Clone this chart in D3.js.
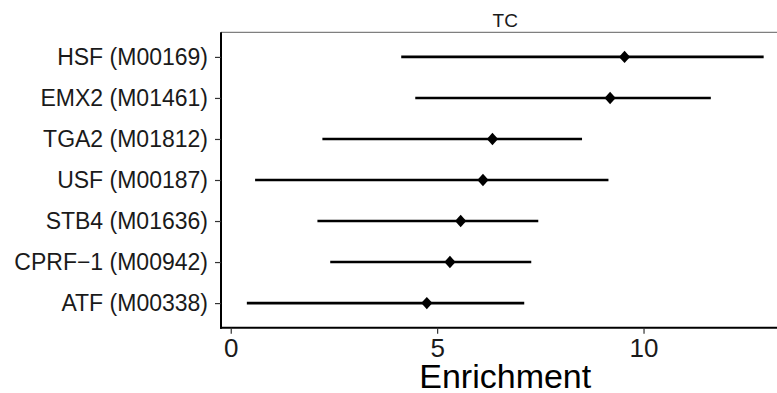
<!DOCTYPE html>
<html>
<head>
<meta charset="utf-8">
<script src="https://cdn.jsdelivr.net/npm/d3@7"></script>
<style>
  body { margin: 0; background: #fff; }
  svg { display: block; font-family: "Liberation Sans", Arial, sans-serif; }
</style>
</head>
<body>
<div id="chart"></div>
<script>
// motifs, top to bottom
var motifs = ["HSF (M00169)", "EMX2 (M01461)", "TGA2 (M01812)", "USF (M00187)",
              "STB4 (M01636)", "CPRF\u22121 (M00942)", "ATF (M00338)"];
var enrichment = [9.54, 9.19, 6.34, 6.11, 5.57, 5.31, 4.75];
var lower = [4.13, 4.47, 2.22, 0.59, 2.10, 2.41, 0.39];
var upper = [12.91, 11.63, 8.51, 9.15, 7.45, 7.28, 7.11];
var xTicks = [0, 5, 10];
var facet = "TC";

var width = 777, height = 393;
var svg = d3.select("#chart").append("svg")
    .attr("width", width)
    .attr("height", height);

// panel runs past the right edge of the picture
var panelLeft = 221, panelRight = 789.5, panelTop = 32.3, panelBottom = 327.7;

var lo = d3.min(lower), hi = d3.max(upper), pad = (hi - lo) * 0.05;
var x = d3.scaleLinear()
    .domain([lo - pad, hi + pad])
    .range([panelLeft, panelRight]);

var y = d3.scalePoint()
    .domain(motifs)
    .range([panelTop, panelBottom])
    .padding(0.6);

var rows = motifs.map(function(m, i){
    return {name: m, est: enrichment[i], lo: lower[i], hi: upper[i]};
});

// facet strip
svg.append("line")
    .attr("x1", panelLeft).attr("x2", panelRight)
    .attr("y1", panelTop).attr("y2", panelTop)
    .attr("stroke", "#7f7f7f")
    .attr("stroke-width", 1.2);

svg.append("text")
    .attr("x", (panelLeft + panelRight) / 2)
    .attr("y", 26.5)
    .attr("text-anchor", "middle")
    .attr("font-size", 19)
    .attr("fill", "#1a1a1a")
    .text(facet);

// error bars
svg.selectAll(".ci")
    .data(rows).enter().append("line")
    .attr("class", "ci")
    .attr("x1", function(d){ return x(d.lo); })
    .attr("x2", function(d){ return x(d.hi); })
    .attr("y1", function(d){ return y(d.name); })
    .attr("y2", function(d){ return y(d.name); })
    .attr("stroke", "#000")
    .attr("stroke-width", 2.6);

// diamonds
svg.selectAll(".pt")
    .data(rows).enter().append("path")
    .attr("class", "pt")
    .attr("transform", function(d){ return "translate(" + x(d.est) + "," + y(d.name) + ")"; })
    .attr("d", "M0,-6.2L5.6,0L0,6.2L-5.6,0Z")
    .attr("fill", "#000");

// y axis
var yAxis = svg.append("g")
    .attr("transform", "translate(" + panelLeft + ",0)")
    .call(d3.axisLeft(y).tickSize(6).tickPadding(7));
yAxis.select(".domain")
    .attr("d", "M0," + panelTop + "V" + (panelBottom + 1))
    .attr("stroke", "#000")
    .attr("stroke-width", 2);
yAxis.selectAll(".tick line").attr("stroke", "#333").attr("stroke-width", 1.2);
yAxis.selectAll(".tick text")
    .attr("font-size", 23)
    .attr("fill", "#1a1a1a")
    .attr("font-family", "Liberation Sans, Arial, sans-serif");

// x axis
var xAxis = svg.append("g")
    .attr("transform", "translate(0," + panelBottom + ")")
    .call(d3.axisBottom(x).tickValues(xTicks).tickSize(6).tickPadding(5));
xAxis.select(".domain")
    .attr("d", "M" + (panelLeft - 1) + ",0H" + panelRight)
    .attr("stroke", "#000")
    .attr("stroke-width", 2);
xAxis.selectAll(".tick line").attr("stroke", "#333").attr("stroke-width", 1.2);
xAxis.selectAll(".tick text")
    .attr("font-size", 26)
    .attr("fill", "#1a1a1a")
    .attr("font-family", "Liberation Sans, Arial, sans-serif");

svg.append("text")
    .attr("x", (panelLeft + panelRight) / 2)
    .attr("y", 388)
    .attr("text-anchor", "middle")
    .attr("font-size", 34)
    .attr("fill", "#000")
    .text("Enrichment");
</script>
</body>
</html>
